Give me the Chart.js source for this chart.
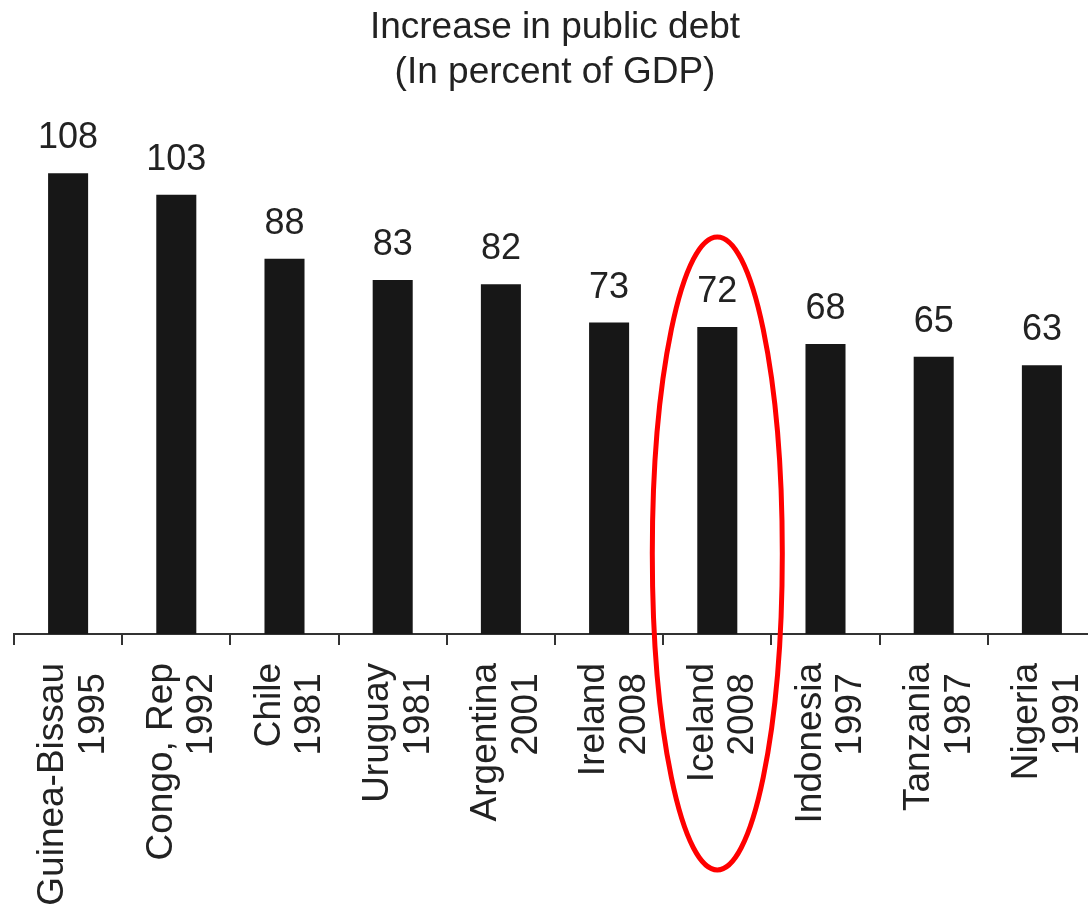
<!DOCTYPE html>
<html>
<head>
<meta charset="utf-8">
<title>Increase in public debt</title>
<script src="https://cdn.jsdelivr.net/npm/chart.js@4.4.0/dist/chart.umd.min.js"></script>
<style>
  html, body { margin: 0; padding: 0; background: #fff; overflow: hidden; }
  #wrap { width: 1096px; height: 916px; }
</style>
</head>
<body>
<div id="wrap"><canvas id="debtChart" width="1096" height="916"></canvas></div>
<script>
(function() {
    "use strict";

    // episode data
    var countries = ['Guinea-Bissau', 'Congo, Rep', 'Chile', 'Uruguay', 'Argentina',
                     'Ireland', 'Iceland', 'Indonesia', 'Tanzania', 'Nigeria'];
    var years = ['1995', '1992', '1981', '1981', '2001', '2008', '2008', '1997', '1987', '1991'];
    var debtIncrease = [108, 103, 88, 83, 82, 73, 72, 68, 65, 63];
    var titleLines = ['Increase in public debt', '(In percent of GDP)'];
    var highlighted = 'Iceland';

    var fontFamily = "'Liberation Sans', Arial, Helvetica, sans-serif";
    var ink = '#222';

    // two-line tick labels: country above, year below
    var labels = countries.map(function(c, i) {
        return [c, years[i] + ' '];
    });

    //* value written above every bar
    var valueLabels = {
        id: 'valueLabels',
        afterDatasetsDraw: function(chart) {
            var ctx = chart.ctx;
            var meta = chart.getDatasetMeta(0);
            ctx.save();
            ctx.font = '36px ' + fontFamily;
            ctx.fillStyle = ink;
            ctx.textAlign = 'center';
            ctx.textBaseline = 'alphabetic';
            meta.data.forEach(function(bar, i) {
                ctx.fillText(String(debtIncrease[i]), bar.x, bar.y - 25);
            });
            ctx.restore();
        }
    };

    //* red ring around the highlighted episode
    var highlightRing = {
        id: 'highlightRing',
        afterDraw: function(chart) {
            var idx = countries.indexOf(highlighted);
            if (idx < 0) { return; }
            var x = chart.scales.x.getPixelForValue(idx);
            var top = chart.scales.y.getPixelForValue(debtIncrease[idx]) - 90;
            var bottom = chart.chartArea.bottom + 236;
            var ctx = chart.ctx;
            ctx.save();
            ctx.beginPath();
            ctx.ellipse(x, (top + bottom) / 2, 65, (bottom - top) / 2, 0, 0, Math.PI * 2);
            ctx.strokeStyle = '#ff0000';
            ctx.lineWidth = 5;
            ctx.stroke();
            ctx.restore();
        }
    };

    var ctx = document.getElementById('debtChart').getContext('2d');
    var debtChart = new Chart(ctx, {
        type: 'bar',
        data: {
            labels: labels,
            datasets: [{
                data: debtIncrease,
                backgroundColor: '#171717',
                borderWidth: 0,
                barPercentage: 0.37,
                categoryPercentage: 1
            }]
        },
        options: {
            responsive: false,
            animation: false,
            layout: {
                padding: { left: 14, right: 0, top: 0, bottom: 0 }
            },
            plugins: {
                legend: { display: false },
                tooltip: { enabled: false },
                title: {
                    display: true,
                    text: titleLines,
                    color: ink,
                    font: { family: fontFamily, size: 37, weight: 'normal', lineHeight: 1.2 },
                    padding: { top: 6, bottom: 6 }
                }
            },
            scales: {
                x: {
                    offset: true,
                    afterFit: function(scale) {
                        // fixed axis band, no side padding for the rotated labels
                        scale.height = 282;
                        scale.paddingLeft = 0;
                        scale.paddingRight = 0;
                    },
                    border: { display: true, color: '#333', width: 2 },
                    grid: {
                        offset: true,
                        drawOnChartArea: false,
                        drawTicks: true,
                        tickLength: 11,
                        color: '#333',
                        lineWidth: 2
                    },
                    ticks: {
                        autoSkip: false,
                        minRotation: 90,
                        maxRotation: 90,
                        padding: 18,
                        labelOffset: -15,
                        color: ink,
                        font: { family: fontFamily, size: 37, lineHeight: 1.1 }
                    }
                },
                y: {
                    display: false,
                    min: 0,
                    max: 125
                }
            }
        },
        plugins: [valueLabels, highlightRing]
    });
})();
</script>
</body>
</html>
